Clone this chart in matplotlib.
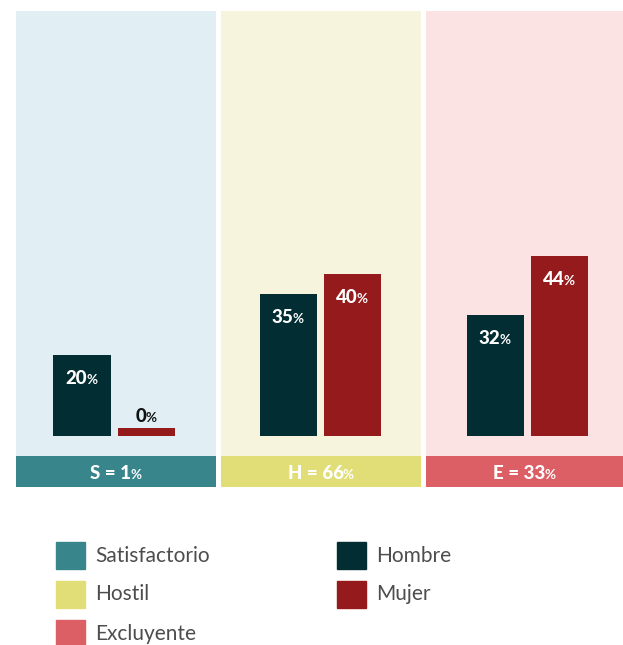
import matplotlib
matplotlib.use("Agg")
import matplotlib.pyplot as plt
from matplotlib.patches import Rectangle

# ---- data ----
groups = ["S", "H", "E"]
group_share = ["1", "66", "33"]
hombre_vals = [20, 35, 30]
mujer_vals = [2, 40, 44.5]
hombre_labels = ["20", "35", "32"]
mujer_labels = ["0", "40", "44"]
legend_left = ["Satisfactorio", "Hostil", "Excluyente"]
legend_right = ["Hombre", "Mujer"]

# ---- style ----
bg_cols = ["#E1EEF3", "#F6F4DC", "#FCE3E3"]
band_cols = ["#38858C", "#E1DE77", "#DC5F66"]
c_h = "#022E33"
c_m = "#951A1C"
FONT = "Lato"
W, H = 623, 645
fig = plt.figure(figsize=(W / 100, H / 100), dpi=100)
fig.patch.set_facecolor("white")


def ax_px(x0, y0, x1, y1):
    return fig.add_axes([x0 / W, 1 - y1 / H, (x1 - x0) / W, (y1 - y0) / H])


panel_x = [(16, 216), (221, 421), (426, 626)]
bar_shift_px = [0, 1, 3]
PX_PER = 4.05  # px per percent
panel_top, base_y, band_top, band_bot = 11, 436, 456, 487

texts = []


def lab(ax, x, y, num, dy_pt, color, size=13.5):
    t1 = ax.annotate(num, (x, y), xytext=(0, dy_pt), textcoords="offset points",
                     ha="right", va="baseline", color=color, fontsize=size,
                     fontweight="black", family=FONT)
    t2 = ax.annotate("%", (x, y), xytext=(0, dy_pt), textcoords="offset points",
                     ha="left", va="baseline", color=color, fontsize=size * 0.72,
                     fontweight="bold", family=FONT)
    texts.append((t1, t2, dy_pt))


for i, (x0, x1) in enumerate(panel_x):
    ax = ax_px(x0, panel_top, x1, band_top)
    ax.set_facecolor(bg_cols[i])
    ylo = -(band_top - base_y) / PX_PER
    yhi = ylo + (band_top - panel_top) / PX_PER
    ax.set_ylim(ylo, yhi)
    sh = bar_shift_px[i] / 64
    ax.set_xlim(-1.03 - sh, 2.09 - sh)
    ax.bar([0], [hombre_vals[i]], width=0.89, color=c_h)
    ax.bar([1], [mujer_vals[i]], width=0.89, color=c_m)
    lab(ax, 0, hombre_vals[i], hombre_labels[i], -21, "white")
    if mujer_vals[i] < 8:
        lab(ax, 1, mujer_vals[i], mujer_labels[i], 4.3, "#111111")
    else:
        lab(ax, 1, mujer_vals[i], mujer_labels[i], -21, "white")
    for s in ax.spines.values():
        s.set_visible(False)
    ax.set_xticks([])
    ax.set_yticks([])

    bx = ax_px(x0, band_top, x1, band_bot)
    bx.set_facecolor(band_cols[i])
    bx.set_xlim(0, 1)
    bx.set_ylim(0, 1)
    for s in bx.spines.values():
        s.set_visible(False)
    bx.set_xticks([])
    bx.set_yticks([])
    lab(bx, 0.5 - 1.5 / 200 if i == 2 else 0.5, 0.5, f"{groups[i]} = {group_share[i]}", -5.5, "white")

# center number+% pairs
fig.canvas.draw()
r = fig.canvas.get_renderer()
for t1, t2, dy in texts:
    w1 = t1.get_window_extent(r).width
    w2 = t2.get_window_extent(r).width
    tot = w1 + w2
    shift_px = tot / 2 - w2
    t1.set_position((shift_px * 0.72, dy))
    t2.set_position((shift_px * 0.72 - 0.6, dy))

# ---- legend ----
leg_cols_left = band_cols
leg_cols_right = [c_h, c_m]
rows_y = [542, 581, 620]
sq_w, sq_h = 29, 27
for j, name in enumerate(legend_left):
    y0 = rows_y[j]
    fig.patches.append(Rectangle((56 / W, 1 - (y0 + sq_h) / H), sq_w / W, sq_h / H,
                                 transform=fig.transFigure, color=leg_cols_left[j]))
    fig.text(95 / W, 1 - (y0 + sq_h / 2) / H, name, va="center", ha="left",
             fontsize=15, color="#4d4d4d", family=FONT)
for j, name in enumerate(legend_right):
    y0 = rows_y[j]
    fig.patches.append(Rectangle((337 / W, 1 - (y0 + sq_h) / H), sq_w / W, sq_h / H,
                                 transform=fig.transFigure, color=leg_cols_right[j]))
    fig.text(376 / W, 1 - (y0 + sq_h / 2) / H, name, va="center", ha="left",
             fontsize=15, color="#4d4d4d", family=FONT)

fig.savefig("out.png", dpi=100, facecolor="white")
